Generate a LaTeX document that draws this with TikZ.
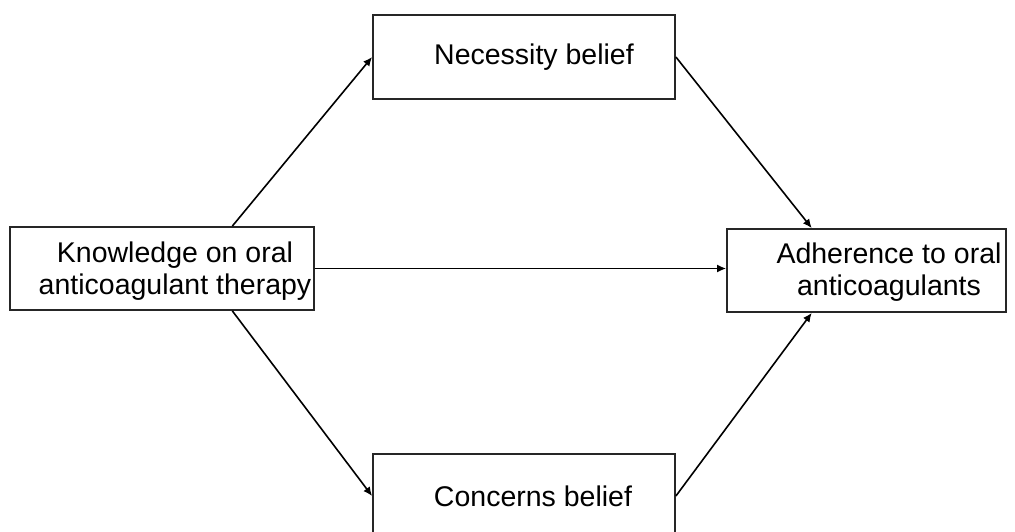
\documentclass[tikz,border=0pt]{standalone}
\usepackage{fontspec}
\setmainfont{Liberation Sans}
\usetikzlibrary{arrows.meta,calc}
\begin{document}
\begin{tikzpicture}[x=1pt,y=-1pt,
  box/.style={draw=black!85,line width=1.8pt,inner sep=0pt,fill=white},
  lbl/.style={font=\fontsize{28.5}{32}\selectfont,align=center,inner sep=0pt},
  arr/.style={line width=1.6pt,-{Latex[length=9pt,width=8pt]}}]
\useasboundingbox (0,0) rectangle (1015,532);
\clip (0,0) rectangle (1015,532);
\node[box,minimum width=302pt,minimum height=84pt] (N) at (524,57) {};
\node[box,minimum width=304pt,minimum height=83pt] (K) at (162,268.5) {};
\node[box,minimum width=279pt,minimum height=83pt] (A) at (866.5,270.5) {};
\node[box,minimum width=302pt,minimum height=84pt] (C) at (524,496) {};
\node[lbl] (Nt) at (534,57) {Necessity belief};
\node[lbl] (Kt) at (175,271) {Knowledge on oral\\anticoagulant therapy};
\node[lbl] (At) at (889,272) {Adherence to oral\\anticoagulants};
\node[lbl] (Ct) at (533,496) {Concerns belief};
\draw[arr] ($(K.north west)!0.73!(K.north east)$) -- (N.west);
\draw[arr] ($(K.south west)!0.73!(K.south east)$) -- (C.west);
\draw[arr] (K.east) -- (K.east -| A.west);
\draw[arr] (N.east) -- ($(A.north west)!0.305!(A.north east)$);
\draw[arr] (C.east) -- ($(A.south west)!0.305!(A.south east)$);
\end{tikzpicture}
\end{document}
